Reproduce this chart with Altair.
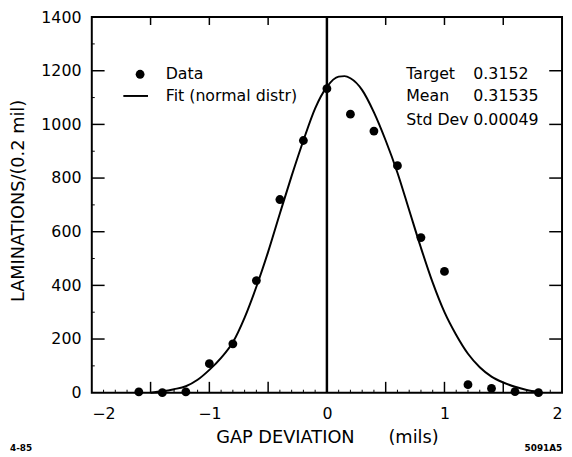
import altair as alt
import pandas as pd

# ---- data -------------------------------------------------------------
bin_x = [-1.6, -1.4, -1.2, -1.0, -0.8, -0.6, -0.4, -0.2, 0.0, 0.2,
         0.4, 0.6, 0.8, 1.0, 1.2, 1.4, 1.6, 1.8]
bin_counts = [3, 0, 3, 108, 182, 418, 720, 940, 1133, 1038,
              975, 846, 578, 452, 30, 16, 4, 0]

fit_x = [-1.5, -1.4, -1.3, -1.2, -1.1, -1.0, -0.9, -0.8, -0.7, -0.6, -0.5,
         -0.4, -0.3, -0.2, -0.1, 0.0, 0.1, 0.15, 0.2, 0.3, 0.4, 0.5, 0.6,
         0.7, 0.8, 0.9, 1.0, 1.1, 1.2, 1.3, 1.4, 1.5, 1.6, 1.7, 1.8]
fit_y = [0, 5, 13, 24, 48, 85, 130, 188, 280, 395, 525,
         668, 808, 940, 1060, 1140, 1178, 1180, 1172, 1128, 1045, 940, 820,
         680, 540, 410, 300, 215, 145, 95, 60, 38, 22, 10, 3]

x_label_values = [-2, -1, 0, 1, 2]
x_major_ticks = [-1.5, -1.0, -0.5, 0.0, 0.5, 1.0, 1.5]
x_minor_ticks = [-1.9, -1.8, -1.7, -1.6, -1.4, -1.3, -1.2, -1.1, -0.9, -0.8,
                 -0.7, -0.6, -0.4, -0.3, -0.2, -0.1, 0.1, 0.2, 0.3, 0.4,
                 0.6, 0.7, 0.8, 0.9, 1.1, 1.2, 1.3, 1.4, 1.6, 1.7, 1.8, 1.9]
y_label_values = [0, 200, 400, 600, 800, 1000, 1200, 1400]
y_inner_ticks = [200, 400, 600, 800, 1000, 1200]
y_minor_ticks = [100, 300, 500, 700, 900, 1100, 1300]
zero_line = [0]

legend_labels = ["Data", "Fit (normal distr)"]
stat_names = ["Target", "Mean", "Std Dev"]
stat_values = ["0.3152", "0.31535", "0.00049"]
footnotes = ["4-85", "5091A5"]

# ---- layout -----------------------------------------------------------
W, H = 477, 381
FONT = "DejaVu Sans"
GAP = "\u00a0" * 6

xscale = alt.Scale(domain=[-2, 2], nice=False, zero=False)
yscale = alt.Scale(domain=[0, 1400], nice=False)

x_axis = alt.Axis(values=x_label_values, title="GAP DEVIATION" + GAP + "(mils)",
                  grid=False, ticks=False, domain=False, labelPadding=13,
                  labelFontSize=16, titleFontSize=18,
                  titleBaseline="middle", titleY=46, format="d")
y_axis = alt.Axis(values=y_label_values, title="LAMINATIONS/(0.2 mil)",
                  grid=False, ticks=False, domain=False, labelPadding=11,
                  labelFontSize=16, titleFontSize=18, titleAngle=270,
                  titleBaseline="bottom", titleAlign="center",
                  titleX=-65, titleY=186, format="d")


def X(field):
    return alt.X(field, type="quantitative", scale=xscale, axis=x_axis)


def Y(field):
    return alt.Y(field, type="quantitative", scale=yscale, axis=y_axis)


fit_df = pd.DataFrame({"x": fit_x, "y": fit_y})
pts_df = pd.DataFrame({"x": bin_x, "y": bin_counts})

fit = alt.Chart(fit_df).mark_line(color="black", strokeWidth=2,
                                  interpolate="monotone").encode(x=X("x"), y=Y("y"))

pts = alt.Chart(pts_df).mark_circle(color="black", opacity=1, size=80).encode(
    x=X("x"), y=Y("y"))

zero = alt.Chart(pd.DataFrame({"x": zero_line})).mark_rule(
    color="black", strokeWidth=2.5).encode(x=X("x"))

xmaj = pd.DataFrame({"x": x_major_ticks})
xmin = pd.DataFrame({"x": x_minor_ticks})
yin = pd.DataFrame({"y": y_inner_ticks})
ymin = pd.DataFrame({"y": y_minor_ticks})

tick_bottom = alt.Chart(xmaj).mark_rule(color="black", strokeWidth=1.5).encode(
    x=X("x"), y=alt.value(H), y2=alt.value(H - 11))
tick_top = alt.Chart(xmaj).mark_rule(color="black", strokeWidth=1.5).encode(
    x=X("x"), y=alt.value(0), y2=alt.value(8))
tick_minor = alt.Chart(xmin).mark_rule(color="black", strokeWidth=1).encode(
    x=X("x"), y=alt.value(H), y2=alt.value(H - 3))
tick_left = alt.Chart(yin).mark_rule(color="black", strokeWidth=1.5).encode(
    y=Y("y"), x=alt.value(0), x2=alt.value(13))
tick_left_minor = alt.Chart(ymin).mark_rule(color="black", strokeWidth=1).encode(
    y=Y("y"), x=alt.value(0), x2=alt.value(3))
tick_right = alt.Chart(yin).mark_rule(color="black", strokeWidth=1.5).encode(
    y=Y("y"), x=alt.value(W), x2=alt.value(W - 13))

# legend (drawn by hand)
leg_pt = alt.Chart(pd.DataFrame({"k": [legend_labels[0]]})).mark_circle(
    color="black", opacity=1, size=80).encode(x=alt.value(49), y=alt.value(58))
leg_line = alt.Chart(pd.DataFrame({"k": [legend_labels[1]]})).mark_rule(
    color="black", strokeWidth=2).encode(x=alt.value(32), x2=alt.value(57), y=alt.value(80))
leg_txt = [
    alt.Chart(pd.DataFrame({"k": [lab]})).mark_text(
        align="left", baseline="middle", font=FONT, fontSize=16, color="black").encode(
        x=alt.value(75), y=alt.value(yy), text="k:N")
    for lab, yy in zip(legend_labels, [58, 80])
]

stat_txt = []
for name, val, yy in zip(stat_names, stat_values, [58, 80, 104]):
    stat_txt.append(alt.Chart(pd.DataFrame({"k": [name]})).mark_text(
        align="left", baseline="middle", font=FONT, fontSize=16, color="black").encode(
        x=alt.value(319), y=alt.value(yy), text="k:N"))
    stat_txt.append(alt.Chart(pd.DataFrame({"k": [val]})).mark_text(
        align="left", baseline="middle", font=FONT, fontSize=16, color="black").encode(
        x=alt.value(387), y=alt.value(yy), text="k:N"))

foot_txt = [
    alt.Chart(pd.DataFrame({"k": [footnotes[0]]})).mark_text(
        align="left", baseline="middle", font=FONT, fontSize=9, fontWeight="bold",
        color="black").encode(x=alt.value(-83), y=alt.value(437), text="k:N"),
    alt.Chart(pd.DataFrame({"k": [footnotes[1]]})).mark_text(
        align="left", baseline="middle", font=FONT, fontSize=9, fontWeight="bold",
        color="black").encode(x=alt.value(439), y=alt.value(437), text="k:N"),
]

chart = alt.layer(
    zero, tick_bottom, tick_top, tick_minor, tick_left, tick_left_minor, tick_right,
    fit, pts, leg_pt, leg_line, *leg_txt, *stat_txt, *foot_txt
).properties(
    width=W, height=H,
    padding={"left": 85, "top": 6, "right": 2, "bottom": 61},
    autosize=alt.AutoSizeParams(type="none"),
    background="white",
).configure_view(
    stroke="black", strokeWidth=2
).configure_axis(
    labelFont=FONT, labelColor="black",
    titleFont=FONT, titleColor="black", titleFontWeight="normal"
)

chart.save("out.html", embed_options={"renderer": "svg", "actions": False})
